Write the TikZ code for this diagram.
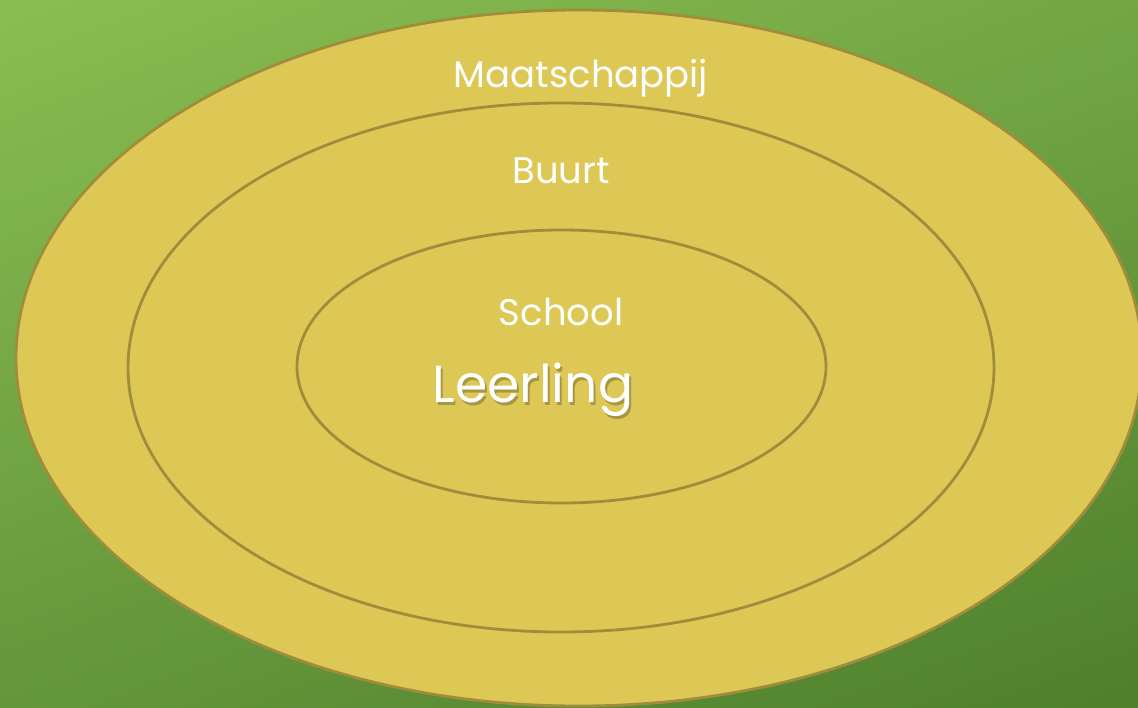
\documentclass[tikz,border=0pt]{standalone}
\usepackage{fontspec}
\setmainfont{Poppins}
\usetikzlibrary{shapes.geometric}
\definecolor{bgtop}{HTML}{8EC354}
\definecolor{bgbot}{HTML}{4A7A2A}
\definecolor{ringfill}{HTML}{DDC855}
\definecolor{ringline}{HTML}{A08D3C}
\definecolor{shadowcol}{HTML}{9C8A3E}
\tikzset{
  ring/.style={ellipse, draw=ringline, fill=ringfill, line width=2.8pt, inner sep=0pt, outer sep=0pt},
  label/.style={text=white, inner sep=0pt, anchor=base, font=\fontsize{37}{37}\selectfont},
  bigfont/.style={font=\fontsize{52}{52}\selectfont},
}
\begin{document}
\begin{tikzpicture}[x=1pt,y=-1pt]
\useasboundingbox (0,0) rectangle (1138,707);
\clip (0,0) rectangle (1138,707);
\shade[top color=bgtop, bottom color=bgbot, shading angle=20] (-200,-200) rectangle (1338,907);
\node[ring, minimum width=1126pt, minimum height=696pt] (outer) at (579,358) {};
\node[ring, minimum width=866pt, minimum height=529pt] (middle) at (561,367.5) {};
\node[ring, minimum width=529pt, minimum height=273pt] (inner) at (561.5,366.5) {};
\node[label] (maat) at (581,87) {Maatschappij};
\node[label] (buurt) at (561,183) {Buurt};
\node[label] (school) at (561,325) {School};
\node[inner sep=0pt, anchor=base, bigfont, text=shadowcol, text opacity=0.8] (leerlingshadow) at (535,405.5) {Leerling};
\node[label, bigfont] (leerling) at (533,402) {Leerling};
\end{tikzpicture}
\end{document}
